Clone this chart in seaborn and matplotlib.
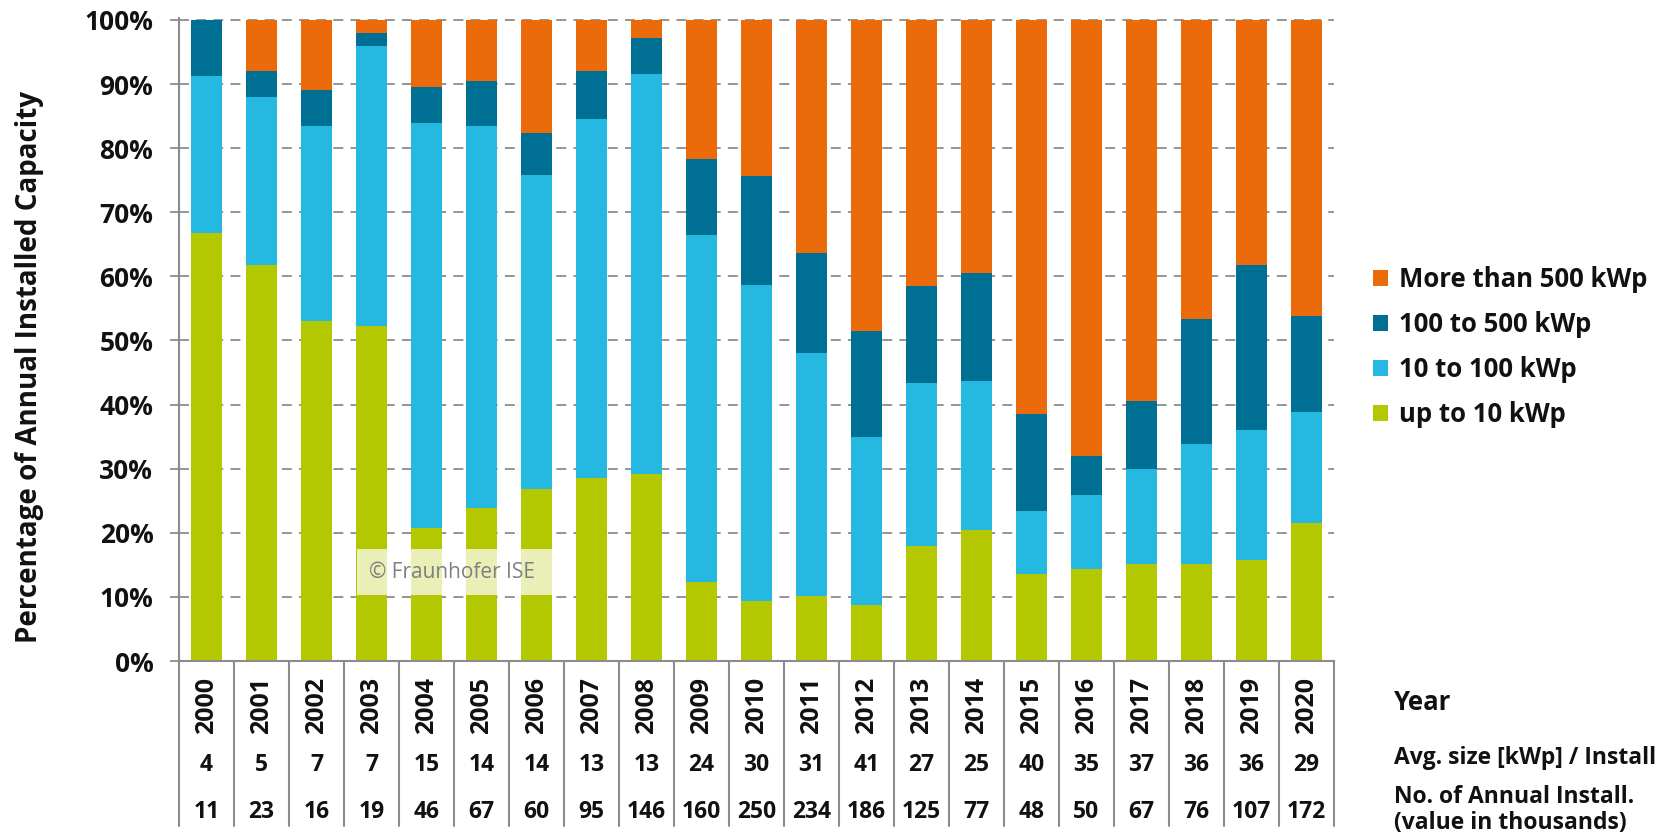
import numpy as np
import pandas as pd
import matplotlib
matplotlib.use("Agg")
import matplotlib.pyplot as plt
import matplotlib.transforms as mtransforms
from matplotlib.patches import Rectangle, Patch
import seaborn as sns

# ---------------- data ----------------
years = ["2000", "2001", "2002", "2003", "2004", "2005", "2006", "2007", "2008", "2009", "2010",
         "2011", "2012", "2013", "2014", "2015", "2016", "2017", "2018", "2019", "2020"]
up_to_10 = [66.8, 61.7, 53.0, 52.3, 20.8, 23.8, 26.9, 28.5, 29.1, 12.4, 9.3,
            10.2, 8.8, 18.0, 20.4, 13.6, 14.3, 15.2, 15.1, 15.7, 21.5]
from_10_to_100 = [24.5, 26.3, 30.4, 43.6, 63.1, 59.6, 48.9, 56.1, 62.5, 54.1, 49.3,
                  37.9, 26.1, 25.4, 23.2, 9.8, 11.6, 14.7, 18.7, 20.4, 17.4]
from_100_to_500 = [8.7, 4.1, 5.7, 2.0, 5.6, 7.0, 6.5, 7.5, 5.6, 11.8, 17.1,
                   15.6, 16.6, 15.1, 16.9, 15.2, 6.0, 10.6, 19.6, 25.7, 14.9]
more_than_500 = [0.0, 7.9, 10.9, 2.1, 10.5, 9.6, 17.7, 7.9, 2.8, 21.7, 24.3,
                 36.3, 48.5, 41.5, 39.5, 61.4, 68.1, 59.5, 46.6, 38.2, 46.2]
avg_size = ["4", "5", "7", "7", "15", "14", "14", "13", "13", "24", "30",
            "31", "41", "27", "25", "40", "35", "37", "36", "36", "29"]
n_install = ["11", "23", "16", "19", "46", "67", "60", "95", "146", "160", "250",
             "234", "186", "125", "77", "48", "50", "67", "76", "107", "172"]
series_names = ["up to 10 kWp", "10 to 100 kWp", "100 to 500 kWp", "More than 500 kWp"]
series_colors = ["#b3c800", "#25b9e2", "#006f94", "#eb6b0a"]
y_ticks = [0, 10, 20, 30, 40, 50, 60, 70, 80, 90, 100]
row_labels = ["Year", "Avg. size [kWp] / Install", "No. of Annual Install.\n(value in thousands)"]

# ---------------- style ----------------
sns.set_theme(style="white")
plt.rcParams["font.family"] = ["Open Sans", "DejaVu Sans"]
plt.rcParams["font.weight"] = "bold"

W, H = 1668, 839
fig = plt.figure(figsize=(W / 100, H / 100), dpi=100)
ax_left, ax_right, ax_top, ax_bot = 179, 1334, 18, 661
ax = fig.add_axes([ax_left / W, 1 - ax_bot / H, (ax_right - ax_left) / W, (ax_bot - ax_top) / H])

gray = "#8c8c8c"
txt = "#111111"
layers = [up_to_10, from_10_to_100, from_100_to_500, more_than_500]
cum = np.cumsum(np.array(layers), axis=0)

# draw from top layer down so lower layers overlay
for i in range(3, -1, -1):
    df = pd.DataFrame({"year": years, "value": cum[i]})
    sns.barplot(data=df, x="year", y="value", order=years, color=series_colors[i],
                saturation=1, width=0.57, errorbar=None, linewidth=0, ax=ax, zorder=2)

ax.set_xlim(-0.5, len(years) - 0.5)
ax.set_ylim(0, 100.3)
ax.set_yticks(y_ticks)
ax.set_yticklabels([f"{t}%" for t in y_ticks], fontsize=19, fontweight="bold", color=txt)
ax.set_xlabel("")
ax.set_ylabel("")
ax.yaxis.grid(True, linestyle=(0, (5.5, 4)), color=gray, linewidth=1.3, zorder=0)
ax.xaxis.grid(False)
ax.set_axisbelow(True)
for s in ["top", "right"]:
    ax.spines[s].set_visible(False)
for s in ["left", "bottom"]:
    ax.spines[s].set_color(gray)
    ax.spines[s].set_linewidth(1.5)
ax.tick_params(axis="y", which="major", length=6.5, width=1.3, color=gray, pad=12, left=True)
ax.tick_params(axis="x", length=0, pad=11.5)
ax.set_xticks(range(len(years)))
ax.set_xticklabels(years, rotation=90, fontsize=18, fontweight="bold", color=txt, va="top")

# table below
trans = mtransforms.blended_transform_factory(ax.transData, ax.transAxes)
ax_h = ax_bot - ax_top
line_bottom = -(826 - ax_bot) / ax_h
for k in range(len(years) + 1):
    ax.plot([k - 0.5, k - 0.5], [0, line_bottom], transform=trans, color=gray,
            linewidth=1.5, clip_on=False, zorder=3)
y_avg = -(765 - ax_bot) / ax_h
y_n = -(812 - ax_bot) / ax_h
for k in range(len(years)):
    ax.text(k, y_avg, avg_size[k], transform=trans, ha="center", va="center",
            fontsize=16.5, fontweight="bold", color=txt)
    ax.text(k, y_n, n_install[k], transform=trans, ha="center", va="center",
            fontsize=16.5, fontweight="bold", color=txt)

# right-side row labels
fig.text(1394 / W, 1 - 703 / H, row_labels[0], fontsize=18.5, fontweight="bold",
         va="center", ha="left", color=txt)
fig.text(1394 / W, 1 - 758 / H, row_labels[1], fontsize=16.5, fontweight="bold",
         va="center", ha="left", color=txt)
fig.text(1394 / W, 1 - 810 / H, row_labels[2], fontsize=16.5, fontweight="bold",
         va="center", ha="left", color=txt, linespacing=1.1)

# y label
fig.text(30 / W, 1 - 367 / H, "Percentage of Annual Installed Capacity", rotation=90,
         fontsize=20, fontweight="bold", va="center", ha="center", color=txt)

# legend
handles = [Patch(facecolor=series_colors[i], edgecolor="none", label=series_names[i])
           for i in range(3, -1, -1)]
leg = fig.legend(handles=handles, loc="center left", bbox_to_anchor=(1373 / W, 1 - 347 / H),
                 frameon=False, fontsize=18.5, handlelength=0.6, handleheight=0.6,
                 handletextpad=0.4, labelspacing=0.7, borderpad=0, borderaxespad=0)
for t in leg.get_texts():
    t.set_fontweight("bold")
    t.set_color(txt)

# watermark
fig.patches.append(Rectangle((357 / W, 1 - 595 / H), 196 / W, 46 / H, transform=fig.transFigure,
                             facecolor="white", alpha=0.72, edgecolor="none", zorder=5))
fig.text(452 / W, 1 - 572 / H, "\u00a9 Fraunhofer ISE", fontsize=15, fontweight="normal",
         color="#7f7f7f", ha="center", va="center", zorder=6)

fig.savefig("out.png", dpi=100)
